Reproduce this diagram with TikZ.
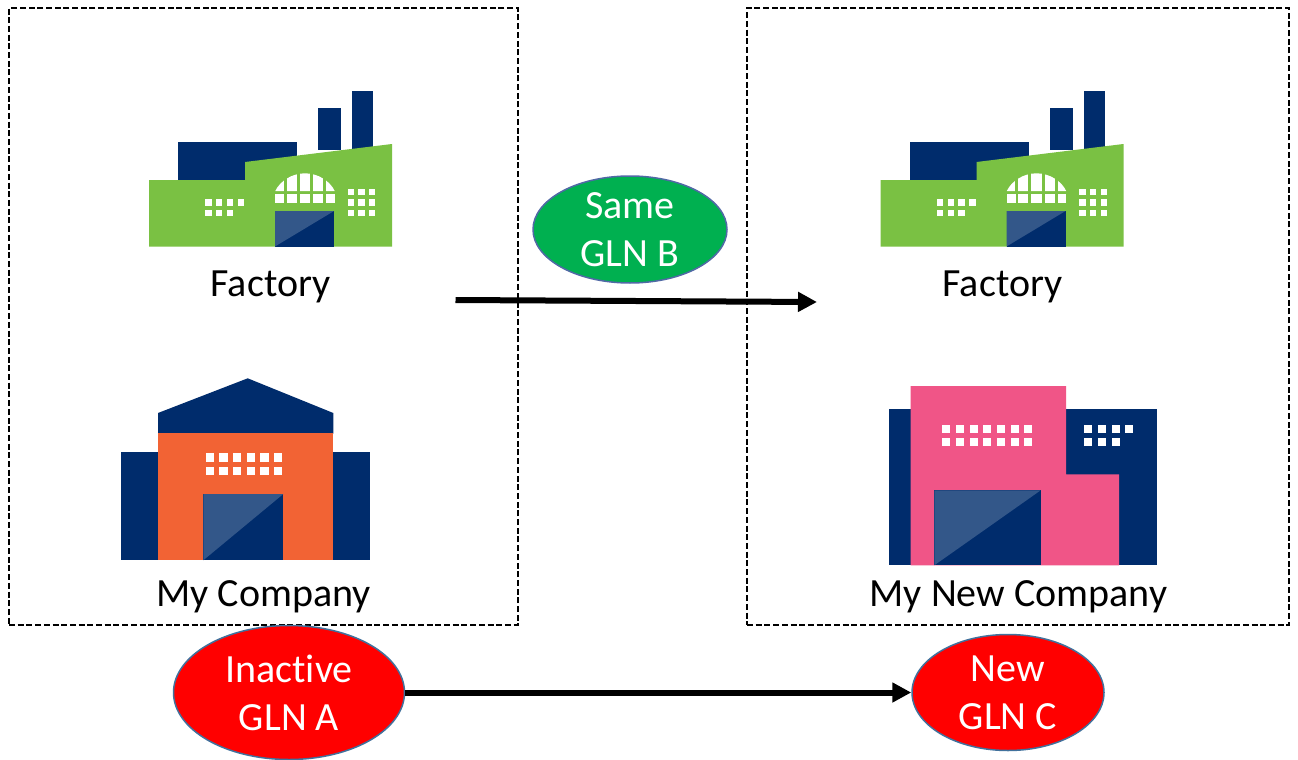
\documentclass[tikz,border=0pt]{standalone}
\usepackage{fontspec}
\setmainfont[Ligatures=NoCommon]{Carlito}
\usetikzlibrary{shapes.geometric,arrows.meta}
\definecolor{navy}{HTML}{002C6C}
\definecolor{doorlight}{HTML}{335789}
\definecolor{leaf}{HTML}{7AC143}
\definecolor{rust}{HTML}{F26334}
\definecolor{rose}{HTML}{F05587}
\definecolor{rimblue}{HTML}{41719C}
\tikzset{
  x=1pt,y=-1pt,
  framebox/.style={draw=black,dashed,dash pattern=on 6pt off 2.7pt,line width=1.8pt,rectangle,inner sep=0pt},
  gln/.style={ellipse,draw=rimblue,line width=1.5pt,text=white,inner xsep=0pt,inner ysep=-22pt,align=center,font=\fontsize{40}{48}\selectfont},
  caption/.style={text=black,inner sep=0pt,font=\fontsize{40}{44}\selectfont},
  link/.style={line width=6pt,draw=black,-{Triangle[length=19pt,width=19pt]}},
  pane/.style={fill=white},
  pics/factorybldg/.style={code={
    \fill[navy] (178,142) rectangle (297,182);
    \fill[navy] (318,108) rectangle (341,150);
    \fill[navy] (352,91) rectangle (373,150);
    \fill[leaf] (149,180) -- (245,180) -- (245,162) -- (392,144) -- (392,246.5) -- (149,246.5) -- cycle;
    \fill[navy] (275,211) rectangle (334,246.5);
    \fill[doorlight] (275,211) -- (334,211) -- (275,246.5) -- cycle;
    \foreach \cx in {205.3,216,226.7,237.7} \fill[pane] (\cx,199.3) rectangle +(6.3,6.3);
    \foreach \cx in {205.3,216,226.7} \fill[pane] (\cx,209.7) rectangle +(6.3,6.3);
    \foreach \cx in {347.7,358.4,369.1} \foreach \cy in {188.7,199.3,209.7} \fill[pane] (\cx,\cy) rectangle +(6.3,6.3);
    \fill[pane] (275.3,191) .. controls (280,181) and (292,173.3) .. (305,173.3) .. controls (318,173.3) and (330,181) .. (334.7,191) -- cycle;
    \foreach \cx in {285.2,298.2,311.5,324.7} \fill[leaf] (\cx-1.5,172) rectangle (\cx+1.5,192);
    \fill[pane] (275.3,194) rectangle (284,202.7);
    \fill[pane] (286.7,194) rectangle (296.7,202.7);
    \fill[pane] (299.7,194) rectangle (310,202.7);
    \fill[pane] (313,194) rectangle (323.3,202.7);
    \fill[pane] (326,194) rectangle (334.7,202.7);
  }}
}
\begin{document}
\begin{tikzpicture}
\useasboundingbox (0,0) rectangle (1298,760);
\fill[white] (0,0) rectangle (1298,760);
% dashed frames
\node[framebox,minimum width=509pt,minimum height=617pt] (left) at (263.5,316.5) {};
\node[framebox,minimum width=542pt,minimum height=617pt] (right) at (1018,316.5) {};
% factories
\pic at (0,0) {factorybldg};
\pic at (731.5,0) {factorybldg};
\node[caption] (factoryA) at (270.5,287) {Factory};
\node[caption] (factoryB) at (1002.5,287) {Factory};
% orange company
\fill[navy] (120.5,452.3) rectangle (370.3,560.3);
\fill[navy] (158,433.5) -- (158,413) -- (247.7,378.3) -- (333.3,413) -- (333.3,433.5) -- cycle;
\fill[rust] (158,433.3) rectangle (333.3,560.3);
\fill[navy] (203.3,494) rectangle (283.3,560.3);
\fill[doorlight] (203.3,494) -- (283.3,494) -- (203.3,560.3) -- cycle;
\foreach \cx in {0,...,5} \foreach \cy in {453.3,467} \fill[pane] (205.7+\cx*13.67,\cy) rectangle +(8.3,8.3);
\node[caption] (companyA) at (263.5,597) {My Company};
% pink company
\fill[navy] (889,409) rectangle (1157,565.3);
\fill[rose] (910.7,386) -- (1066,386) -- (1066,474.3) -- (1119,474.3) -- (1119,565.3) -- (910.7,565.3) -- cycle;
\fill[navy] (934.3,490.3) rectangle (1040.7,565.3);
\fill[doorlight] (934.3,490.3) -- (1040.7,490.3) -- (934.3,565.3) -- cycle;
\foreach \cx in {0,...,6} \foreach \cy in {425,438.3} \fill[pane] (942.3+\cx*13.67,\cy) rectangle +(8,8);
\foreach \cx in {0,...,3} \fill[pane] (1084.3+\cx*13.67,425) rectangle +(8,8);
\foreach \cx in {0,...,2} \fill[pane] (1084.3+\cx*13.67,438.3) rectangle +(8,8);
\node[caption] (companyB) at (1018.5,597) {My New Company};
% ellipses
\node[gln,fill={rgb,255:red,0;green,176;blue,80},draw={rgb,255:red,80;green,105;blue,165},minimum width=194pt,minimum height=107pt] (same) at (630,229.5) {\raisebox{-1.5pt}{Same}\\\raisebox{-1.5pt}{GLN B}};
\node[gln,fill=red,minimum width=231pt,minimum height=134pt] (inactive) at (289,692.5) {\raisebox{-2pt}{Inactive}\\\raisebox{-2pt}{GLN A}};
\node[gln,fill=red,minimum width=192pt,minimum height=116pt] (newgln) at (1008,692.5) {\raisebox{-2pt}{New}\\\raisebox{-2pt}{GLN C}};
% connectors
\coordinate (start) at (455.5,300);
\coordinate (end) at (817,302);
\draw[link] (start) -- (end);
\draw[link] (inactive.east) -- (newgln.west);
\end{tikzpicture}
\end{document}
